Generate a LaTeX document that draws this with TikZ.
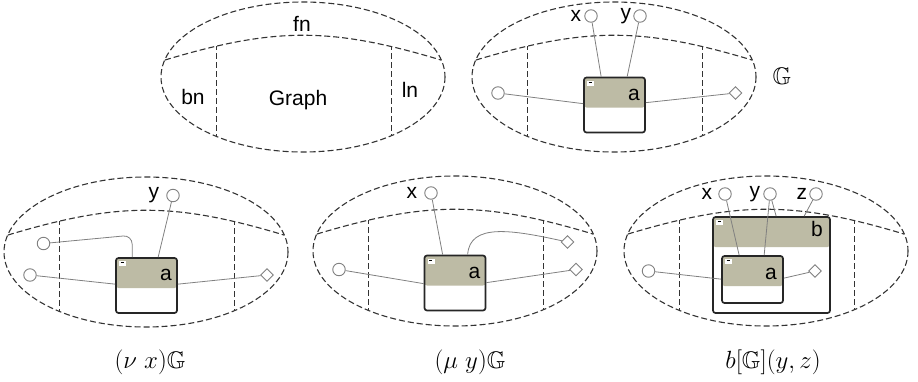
\documentclass[tikz,border=0pt]{standalone}
\usepackage{amsmath,amssymb}
\usepackage{fontspec}
\setsansfont{Liberation Sans}
\usepackage{tikz}
\usetikzlibrary{positioning,shapes.geometric}
\definecolor{bandgray}{RGB}{189,187,165}
\newcommand{\Gr}{\mathbb{G}}

\begin{document}
\begin{tikzpicture}[x=1pt, y=-1pt,
    frame/.style={draw=black!80, line width=1.1pt, dash pattern=on 6pt off 3pt},
    box/.style={draw=black!85, line width=1.7pt, rounded corners=2.5pt, fill=white, inner sep=0pt,
      minimum width=61pt, minimum height=55pt,
      path picture={\fill[bandgray] (path picture bounding box.north west) rectangle ([yshift=-30pt]path picture bounding box.north east);}},
    tog/.style={fill=white, minimum width=7pt, minimum height=5pt, inner sep=0pt,
      path picture={\draw[black, line width=0.8pt] ([shift={(-2pt,1pt)}]path picture bounding box.center) -- ++(3pt,0pt);}},
    port/.style={circle, draw=gray, fill=white, line width=0.9pt, minimum size=12.5pt, inner sep=0pt},
    link/.style={diamond, draw=gray, fill=white, line width=0.9pt, minimum size=13pt, inner sep=0pt},
    wire/.style={draw=gray, line width=0.8pt},
    lbl/.style={font=\fontsize{21}{25}\selectfont\sffamily, inner sep=0pt},
    captxt/.style={font=\fontsize{24}{28}\selectfont, inner sep=0pt, anchor=base},
  ]
  \useasboundingbox (0,0) rectangle (918,381);

  % Frames
  \foreach \cx/\cy in {303/77, 614/77, 146/252, 455/251, 766/251}{
    \draw[frame] (\cx,\cy) ellipse [x radius=142, y radius=75];
    \draw[frame] (\cx-138,\cy-17) .. controls (\cx-28,\cy-50) and (\cx+28,\cy-50) .. (\cx+138,\cy-17);
    \begin{scope}
      \clip (\cx,\cy) ellipse [x radius=142, y radius=75];
      \clip (\cx-138,\cy-17) .. controls (\cx-28,\cy-50) and (\cx+28,\cy-50) .. (\cx+138,\cy-17)
        -- (\cx+138,\cy+80) -- (\cx-138,\cy+80) -- cycle;
      \draw[frame, line width=1pt] (\cx-87,\cy-60) -- (\cx-87,\cy+80) (\cx+88,\cy-60) -- (\cx+88,\cy+80);
    \end{scope}
  }

  % Names of the parts
  \node[lbl] (fn) at (302,24) {fn};
  \node[lbl] (bn) at (193,96.5) {bn};
  \node[lbl] (graph) at (298,100) {Graph};
  \node[lbl] (ln) at (410,90) {ln};

  % G
  \node[box] (a2) at (614.5,105) {};
  \node[tog] (t2) at ([shift={(7.5,6.5)}]a2.north west) {};
  \node[lbl] (n2) at ([shift={(-12,18)}]a2.north east) {a};
  \node[port] (xp2) at (591,16) {};
  \node[port] (yp2) at (640,16) {};
  \node[lbl, left=3pt of xp2] (xl2) {x};
  \node[lbl, left=2pt of yp2] (yl2) {y};
  \node[port] (lp2) at (498,93) {};
  \node[link] (rd2) at (735.5,93) {};
  \draw[wire] (xp2) -- ([shift={(18,0)}]a2.north west);
  \draw[wire] (yp2) -- ([shift={(44,0)}]a2.north west);
  \draw[wire] (lp2) -- ([shift={(0,27)}]a2.north west);
  \draw[wire] (rd2) -- ([shift={(0,26)}]a2.north east);
  \node[captxt] (gsym) at (782,84) {$\Gr$};

  % (nu x)G
  \node[box] (a3) at (146.5,285.5) {};
  \node[tog] (t3) at ([shift={(7.5,6.5)}]a3.north west) {};
  \node[lbl] (n3) at ([shift={(-12,18)}]a3.north east) {a};
  \node[port] (yp3) at (173,195.5) {};
  \node[lbl, left=7pt of yp3] (yl3) {y};
  \node[port] (up3) at (43.5,243.5) {};
  \node[port] (lp3) at (30,275) {};
  \node[link] (rd3) at (267,275) {};
  \draw[wire] (yp3) -- ([shift={(43,0)}]a3.north west);
  \draw[wire, rounded corners=9pt] (up3) -- ([shift={(17,-22)}]a3.north west) -- ([shift={(17,0)}]a3.north west);
  \draw[wire] (lp3) -- ([shift={(0,27)}]a3.north west);
  \draw[wire] (rd3) -- ([shift={(0,27)}]a3.north east);
  \node[captxt] (c3) at (150,368) {$(\nu\ x)\Gr$};

  % (mu y)G
  \node[box] (a4) at (455,283) {};
  \node[tog] (t4) at ([shift={(7.5,6.5)}]a4.north west) {};
  \node[lbl] (n4) at ([shift={(-12,18)}]a4.north east) {a};
  \node[port] (xp4) at (431,193) {};
  \node[lbl, left=7pt of xp4] (xl4) {x};
  \node[link] (ud4) at (567.5,242) {};
  \node[link] (rd4) at (576,269.5) {};
  \node[port] (lp4) at (339,269.5) {};
  \draw[wire] (xp4) -- ([shift={(19,0)}]a4.north west);
  \draw[wire] ([shift={(44,0)}]a4.north west) .. controls +(2,-32) and +(-55,-12) .. (ud4);
  \draw[wire] (lp4) -- ([shift={(0,29)}]a4.north west);
  \draw[wire] (rd4) -- ([shift={(0,28)}]a4.north east);
  \node[captxt] (c4) at (470,368) {$(\mu\ y)\Gr$};

  % b[G](y,z)
  \node[box, minimum width=117pt, minimum height=96pt] (b5) at (771.5,265) {};
  \node[tog] (tb5) at ([shift={(7.5,6.5)}]b5.north west) {};
  \node[lbl] (nb5) at ([shift={(-14,13)}]b5.north east) {b};
  \node[box, minimum height=47pt] (a5) at (752.5,279.5) {};
  \node[tog] (t5) at ([shift={(7.5,6.5)}]a5.north west) {};
  \node[lbl] (n5) at ([shift={(-13,19)}]a5.north east) {a};
  \node[port] (xp5) at (725,194) {};
  \node[port] (yp5) at (770,194) {};
  \node[port] (zp5) at (816,194) {};
  \node[lbl, left=6pt of xp5] (xl5) {x};
  \node[lbl, left=3pt of yp5] (yl5) {y};
  \node[lbl, left=2pt of zp5] (zl5) {z};
  \node[port] (lp5) at (648.5,271) {};
  \node[link] (rd5) at (815,271) {};
  \draw[wire] (xp5) -- ([shift={(18,0)}]a5.north west);
  \draw[wire] (yp5) -- ([shift={(43,0)}]a5.north west);
  \draw[wire] (yp5) -- ([shift={(64,0)}]b5.north west);
  \draw[wire] (zp5) -- ([shift={(92,0)}]b5.north west);
  \draw[wire] (lp5) -- ([shift={(0,24)}]a5.north west);
  \draw[wire] (rd5) -- ([shift={(0,23)}]a5.north east);
  \node[captxt] (c5) at (773,368) {$b[\Gr](y,z)$};
\end{tikzpicture}
\end{document}
